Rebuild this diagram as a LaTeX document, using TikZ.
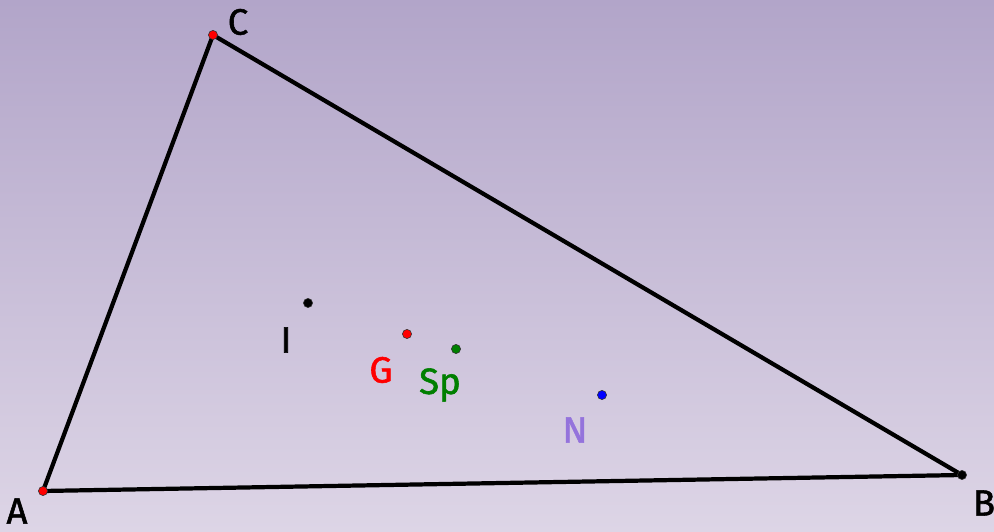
\documentclass[tikz,border=0pt]{standalone}
\usepackage{fontspec}
\setmainfont{Fira Sans}[RawFeature={embolden=1.5}]
\usepackage{tikz}
\usetikzlibrary{positioning}
\definecolor{bgtop}{HTML}{B2A5C9}
\definecolor{bgbot}{HTML}{DDD5E6}
\definecolor{ptgreen}{HTML}{007F00}
\definecolor{ptlav}{HTML}{9473DC}
\definecolor{ptblue}{HTML}{0000FF}

\begin{document}
\begin{tikzpicture}[x=0.025cm, y=0.025cm,
  font=\fontsize{26}{30}\selectfont,
  side/.style={draw=black, line width=3pt, line join=round},
  dot/.style={circle, draw=black!80, line width=0.4pt, inner sep=0pt, minimum size=6.5pt},
  lbl/.style={inner sep=0pt}
]
% ================= background =================
\useasboundingbox (0,0) rectangle (994,532);
\shade[top color=bgtop, bottom color=bgbot] (0,0) rectangle (994,532);
% ================= triangle =================
\coordinate (A) at (43,41);
\coordinate (B) at (962,57);
\coordinate (C) at (213,497);
\draw[side] (A) -- (B) -- (C) -- cycle;
\node[dot, fill=red]   (dA) at (A) {};
\node[dot, fill=black] (dB) at (B) {};
\node[dot, fill=red]   (dC) at (C) {};
\node[lbl] (lA) at (17,21)   {A};
\node[lbl] (lB) at (984,29)  {B};
\node[lbl] (lC) at (238,510) {C};
% ================= centres =================
\node[dot, fill=black]     (I)  at (308,229) {};
\node[dot, fill=red]       (G)  at (407,198) {};
\node[dot, fill=ptgreen]   (Sp) at (456,183) {};
\node[dot, fill=ptblue]    (N)  at (602,137) {};
\node[lbl]                 (lI)  at (286,192) {I};
\node[lbl, text=red]       (lG)  at (381,162) {G};
\node[lbl, text=ptgreen]   (lSp) at (440,147) {Sp};
\node[lbl, text=ptlav]     (lN)  at (575,102) {N};
\end{tikzpicture}
\end{document}
